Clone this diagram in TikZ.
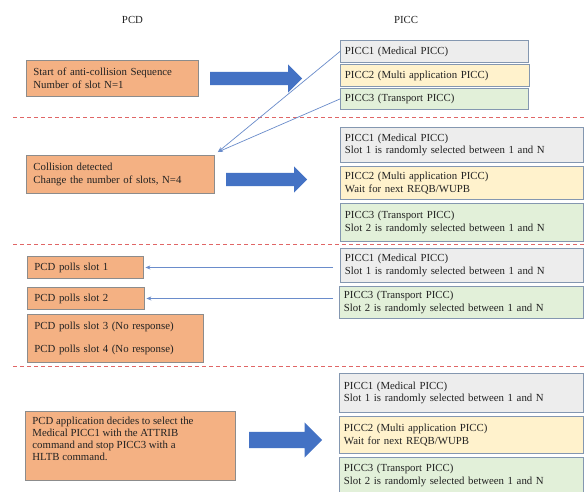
\documentclass[tikz,border=0pt]{standalone}
\usepackage{fontspec}
\setmainfont{Liberation Serif}
\usetikzlibrary{shapes.arrows,arrows.meta}
\definecolor{orfill}{HTML}{F4B183}
\definecolor{ordraw}{HTML}{8C8C8C}
\definecolor{pgray}{HTML}{EDEDED}
\definecolor{pyellow}{HTML}{FFF2CC}
\definecolor{pgreen}{HTML}{E2F0D9}
\definecolor{pdraw}{HTML}{8497B0}
\definecolor{bigblue}{HTML}{4472C4}
\definecolor{thinblue}{HTML}{6A8CCB}
\definecolor{sepred}{HTML}{E06666}
\definecolor{txt}{HTML}{222222}
\begin{document}
\begin{tikzpicture}[x=1pt,y=-1pt,
  every node/.style={font=\fontsize{10.8}{12.5}\selectfont, text=txt},
  obox/.style={draw=ordraw, fill=orfill, line width=0.9pt, anchor=north west,
    align=left, inner xsep=7pt, inner ysep=2pt},
  pbox/.style={draw=pdraw, line width=0.9pt, anchor=north west,
    align=left, inner xsep=4.5pt, inner ysep=2pt},
  pg/.style={pbox, fill=pgray},
  py/.style={pbox, fill=pyellow},
  pgr/.style={pbox, fill=pgreen},
  bigarrow/.style={single arrow, fill=bigblue, draw=none, anchor=tail,
    inner xsep=0pt, single arrow tip angle=90},
  thinarrow/.style={draw=thinblue, line width=0.7pt, -{Stealth[length=5pt,width=4pt]}},
  sep/.style={draw=sepred, line width=0.8pt, dash pattern=on 4pt off 3pt},
  header/.style={font=\fontsize{10.8}{12.5}\selectfont}
]
\useasboundingbox (0,0) rectangle (585,491);
\fill[white] (0,0) rectangle (585,491);

% headers
\node[header] (hpcd) at (132.5,20) {PCD};
\node[header] (hpicc) at (406,20) {PICC};

% separators
\draw[sep] (13,117) -- (585,117);
\draw[sep] (13,244.5) -- (585,244.5);
\draw[sep] (13,366) -- (585,366);

% ---------- section 1
\node[obox, minimum width=172pt, minimum height=36pt, text width=158pt] (o1) at (26,60)
  {Start of anti-collision Sequence\\Number of slot N=1};
\node[pg, minimum width=188pt, minimum height=22pt, text width=179pt] (p11) at (340,40)
  {PICC1 (Medical PICC)};
\node[py, minimum width=189pt, minimum height=22pt, text width=180pt] (p12) at (340,64)
  {PICC2 (Multi application PICC)};
\node[pgr, minimum width=188pt, minimum height=21pt, text width=179pt] (p13) at (340,88)
  {PICC3 (Transport PICC)};
\node[bigarrow, minimum height=92pt, minimum width=28pt, inner ysep=6.5pt,
  single arrow head extend=7.5pt] (a1) at (210,78.5) {};

% ---------- section 2
\node[obox, minimum width=188pt, minimum height=38pt, text width=174pt] (o2) at (26,155)
  {Collision detected\\Change the number of slots, N=4};
\node[pg, minimum width=243pt, minimum height=35pt, text width=234pt] (p21) at (340,127)
  {PICC1 (Medical PICC)\\Slot 1 is randomly selected between 1 and N};
\node[py, minimum width=243pt, minimum height=33pt, text width=234pt] (p22) at (340,166)
  {PICC2 (Multi application PICC)\\Wait for next REQB/WUPB};
\node[pgr, minimum width=243pt, minimum height=38pt, text width=234pt] (p23) at (340,203)
  {PICC3 (Transport PICC)\\Slot 2 is randomly selected between 1 and N};
\node[bigarrow, minimum height=81pt, minimum width=26pt, inner ysep=6.5pt,
  single arrow head extend=6.5pt] (a2) at (226,179.5) {};

% thin lines from section 1 PICCs to collision box
\coordinate (ctip) at ([xshift=3pt,yshift=3pt]o2.north east);
\draw[thinarrow] (p11.west) -- (ctip);
\draw[thinarrow] (p13.west) -- (ctip);

% ---------- section 3
\node[obox, minimum width=116pt, minimum height=22pt, text width=102pt] (o31) at (27,256)
  {PCD polls slot 1};
\node[obox, minimum width=117pt, minimum height=22pt, text width=103pt] (o32) at (27,287)
  {PCD polls slot 2};
\node[obox, minimum width=176pt, minimum height=48pt, text width=162pt] (o33) at (27,314)
  {PCD polls slot 3 (No response)\\[10pt]PCD polls slot 4 (No response)};
\node[pg, minimum width=243pt, minimum height=34pt, text width=234pt] (p31) at (340,248)
  {PICC1 (Medical PICC)\\Slot 1 is randomly selected between 1 and N};
\node[pgr, minimum width=244pt, minimum height=32pt, text width=235pt] (p33) at (339,286)
  {PICC3 (Transport PICC)\\Slot 2 is randomly selected between 1 and N};
\draw[thinarrow] ([xshift=-7pt]p31.west |- o31.east) -- ([xshift=1.5pt]o31.east);
\draw[thinarrow] ([xshift=-6pt]p33.west |- o32.east) -- ([xshift=1.5pt]o32.east);

% ---------- section 4
\node[obox, minimum width=210pt, minimum height=69pt] (o4) at (25,411)
  {\parbox[c][57pt][t]{196pt}{\fontsize{10.8}{11.7}\selectfont
   PCD application decides to select the\\Medical PICC1 with the ATTRIB\\command and stop PICC3 with a\\HLTB command.}};
\node[pg, minimum width=244pt, minimum height=39pt, text width=235pt] (p41) at (339,373)
  {PICC1 (Medical PICC)\\Slot 1 is randomly selected between 1 and N};
\node[py, minimum width=244pt, minimum height=37pt, text width=235pt] (p42) at (339,416)
  {PICC2 (Multi application PICC)\\Wait for next REQB/WUPB};
\node[pgr, minimum width=244pt, minimum height=36pt, text width=235pt] (p43) at (339,457)
  {PICC3 (Transport PICC)\\Slot 2 is randomly selected between 1 and N};
\node[bigarrow, minimum height=73pt, minimum width=35pt, inner ysep=8pt,
  single arrow head extend=9.5pt] (a3) at (249,440) {};
\end{tikzpicture}
\end{document}
